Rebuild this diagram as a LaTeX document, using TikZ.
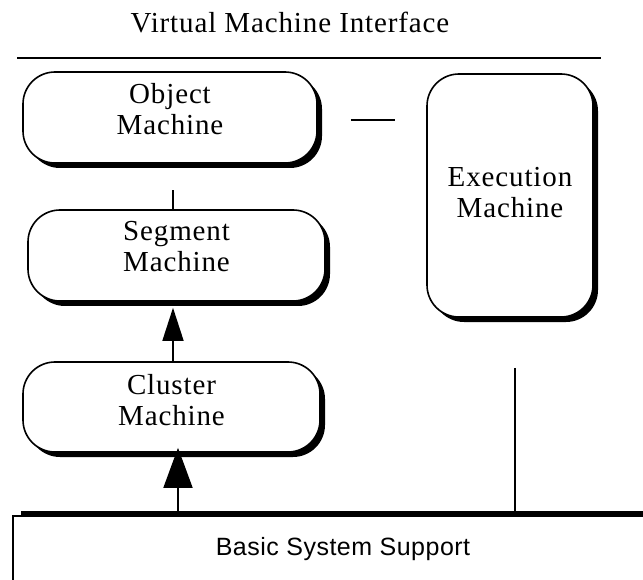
\documentclass[tikz,border=0pt]{standalone}
\usepackage{fontspec}
\setmainfont[LetterSpace=3]{Liberation Serif}
\newfontfamily\supportfont[LetterSpace=2]{Liberation Sans}
\usetikzlibrary{arrows.meta}
\usetikzlibrary{shadows}
\tikzset{>=latex}
\newcommand\layerfont{\fontsize{29}{31}\selectfont}
\tikzstyle{machine}=[draw,line width=1.6pt,rounded corners=32pt,fill=white,
  drop shadow={shadow xshift=5pt,shadow yshift=-5pt,fill=black,opacity=1},
  align=center,font=\layerfont,minimum width=294pt,minimum height=91pt,text depth=18pt]
\tikzstyle{support}=[draw,line width=1.6pt,minimum width=660pt,minimum height=66pt,
  font=\supportfont\fontsize{25}{28}\selectfont]
\tikzstyle{wire}=[line width=1.6pt]
\tikzstyle{up arrow}=[line width=1.6pt,-{Triangle[length=33pt,width=21pt]}]
\tikzstyle{big up arrow}=[line width=1.6pt,-{Triangle[length=40pt,width=29pt]}]

\begin{document}
\begin{tikzpicture}[x=1pt,y=-1pt]
  \useasboundingbox (0,0) rectangle (643,580);
  % interface line on top
  \node[font=\layerfont] (title) at (290,23) {Virtual Machine Interface};
  \coordinate (vmiL) at (17,58);
  \coordinate (vmiR) at (601,58);
  \draw[line width=1.8pt] (vmiL) -- (vmiR);
  % the machines
  \node[machine] (object) at (170,117.5) {Object\\Machine};
  \node[machine,minimum width=297pt] (segment) at (176.5,255.5) {Segment\\Machine};
  \node[machine,minimum width=297pt,minimum height=90pt,text depth=14pt] (cluster)
       at (171.5,407) {Cluster\\Machine};
  \node[machine,minimum width=166pt,minimum height=243pt,text depth=6pt] (execution)
       at (510,195.5) {Execution\\Machine};
  \node[support] (support) at (343,549) {Basic System Support};
  \draw[line width=4pt] ([shift={(9pt,2.6pt)}]support.north west) -- ([yshift=2.6pt]support.north east);
  % connections
  \draw[wire] ([xshift=-3.5pt]segment.north) -- ++(0,-19);
  \draw[wire] ([xshift=33pt,yshift=-2.5pt]object.east)
           -- ([xshift=-31pt,yshift=-2.5pt]object.east -| execution.west);
  \draw[up arrow] ([xshift=1.5pt]cluster.north) -- ([xshift=-3.5pt,yshift=-6pt]segment.south);
  \draw[big up arrow] ([xshift=6.5pt,yshift=3pt]cluster.south |- support.north)
                   -- ([xshift=6.5pt,yshift=5pt]cluster.south);
  \draw[wire] ([xshift=5pt,yshift=-50pt]execution.south)
           -- ([xshift=5pt,yshift=3pt]execution.south |- support.north);
\end{tikzpicture}
\end{document}
